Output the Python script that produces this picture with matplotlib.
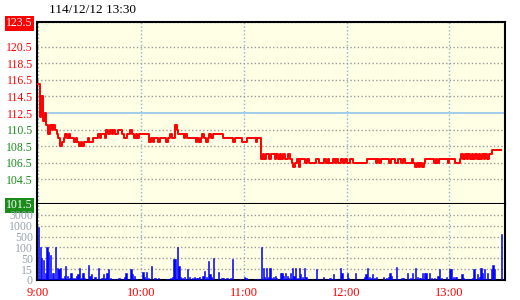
import numpy as np
import matplotlib.pyplot as plt

title = "114/12/12 13:30"

# one value per minute from 9:00 to 13:30
price = [
    116.0, 112.0, 114.5, 111.5, 112.5, 111.0, 110.0, 111.0, 110.5, 111.0,
    110.5, 110.0, 109.5, 108.5, 109.0, 109.5, 110.0, 109.5, 110.0, 109.5,
    109.5, 109.0, 109.5, 109.0, 108.5, 109.0, 108.5, 109.0, 109.0, 109.5,
    109.0, 109.0, 109.5, 109.5, 109.5, 110.0, 109.5, 110.0, 110.0, 109.5,
    110.5, 110.0, 110.5, 110.0, 110.5, 110.0, 110.0, 110.5, 110.5, 110.0,
    109.5, 109.5, 110.0, 110.0, 110.5, 110.0, 109.5, 110.0, 109.5, 110.0,
    110.0, 110.0, 110.0, 110.0, 110.0, 109.0, 109.5, 109.0, 109.5, 109.5,
    109.0, 109.5, 109.5, 109.5, 109.5, 109.0, 109.5, 110.0, 109.5, 109.5,
    111.0, 110.5, 110.0, 110.0, 110.0, 109.5, 110.0, 109.5, 109.5, 109.5,
    109.5, 109.5, 109.0, 109.5, 109.0, 109.5, 110.0, 109.5, 109.0, 109.5,
    110.0, 109.5, 110.0, 110.0, 110.0, 110.0, 110.0, 110.0, 109.5, 109.5,
    109.5, 109.5, 109.5, 109.5, 109.0, 109.5, 109.5, 109.5, 109.5, 109.0,
    109.0, 109.0, 109.5, 109.5, 109.5, 109.5, 109.5, 109.0, 109.5, 109.5,
    107.0, 107.5, 107.0, 107.5, 107.5, 107.0, 107.5, 107.5, 107.0, 107.5,
    107.0, 107.5, 107.0, 107.5, 107.0, 107.0, 107.5, 107.0, 106.5, 106.0,
    106.5, 107.0, 106.0, 107.0, 107.0, 107.0, 106.5, 107.0, 106.5, 106.5,
    106.5, 106.5, 107.0, 107.0, 106.5, 106.5, 106.5, 107.0, 106.5, 107.0,
    106.5, 106.5, 107.0, 106.5, 107.0, 106.5, 106.5, 107.0, 106.5, 107.0,
    106.5, 106.5, 107.0, 107.0, 106.5, 106.5, 106.5, 106.5, 106.5, 106.5,
    106.5, 106.5, 107.0, 107.0, 107.0, 107.0, 107.0, 106.5, 107.0, 106.5,
    107.0, 107.0, 107.0, 107.0, 107.0, 106.5, 107.0, 107.0, 106.5, 106.5,
    107.0, 107.0, 106.5, 107.0, 106.5, 106.5, 106.5, 106.5, 107.0, 106.5,
    106.0, 106.5, 106.0, 106.5, 106.0, 106.5, 107.0, 107.0, 107.0, 107.0,
    107.0, 106.5, 107.0, 106.5, 107.0, 107.0, 107.0, 107.0, 107.0, 106.5,
    107.0, 107.0, 107.0, 106.5, 106.5, 106.5, 107.0, 107.5, 107.0, 107.5,
    107.0, 107.5, 107.0, 107.5, 107.0, 107.5, 107.0, 107.5, 107.0, 107.5,
    107.0, 107.5, 107.0, 107.5, 107.5, 108.0, 108.0, 108.0, 108.0, 108.0,
    108.0,
]

volume = [
    950, 100, 50, 45, 10, 100, 80, 65, 10, 10,
    105, 18, 15, 20, 3, 6, 25, 6, 3, 10,
    3, 3, 6, 8, 18, 3, 10, 3, 0, 27,
    6, 8, 0, 4, 0, 18, 0, 3, 8, 3,
    10, 15, 3, 0, 1, 0, 2, 3, 0, 2,
    4, 10, 0, 0, 16, 8, 6, 1, 0, 0,
    0, 11, 4, 11, 3, 0, 25, 0, 3, 0,
    3, 0, 0, 0, 0, 1, 0, 3, 4, 49,
    49, 100, 25, 4, 3, 4, 1, 17, 4, 0,
    3, 4, 3, 3, 4, 0, 6, 12, 4, 42,
    8, 4, 50, 0, 0, 11, 0, 3, 3, 0,
    3, 0, 3, 47, 0, 0, 0, 1, 0, 0,
    4, 3, 1, 0, 0, 0, 1, 0, 1, 0,
    115, 18, 4, 18, 4, 18, 3, 4, 6, 3,
    0, 10, 10, 6, 10, 6, 3, 10, 18, 6,
    18, 3, 18, 8, 4, 18, 4, 1, 0, 0,
    1, 0, 16, 0, 1, 0, 4, 0, 0, 1,
    3, 1, 8, 1, 0, 0, 18, 10, 0, 1,
    10, 3, 0, 0, 0, 10, 0, 0, 1, 0,
    4, 8, 18, 4, 3, 8, 3, 4, 0, 0,
    0, 4, 0, 3, 4, 10, 6, 1, 0, 21,
    1, 0, 3, 3, 0, 10, 1, 3, 10, 0,
    18, 4, 3, 3, 10, 10, 10, 0, 10, 3,
    0, 3, 0, 6, 16, 3, 0, 0, 4, 0,
    15, 17, 4, 4, 4, 0, 0, 8, 3, 1,
    1, 0, 1, 3, 15, 1, 8, 4, 18, 10,
    15, 1, 10, 0, 15, 27, 15, 0, 0, 0,
    600,
]

price_ticks = [101.5, 104.5, 106.5, 108.5, 110.5, 112.5, 114.5, 116.5, 118.5, 120.5, 123.5]
ref_price = 112.5
vol_ticks = [0, 15, 50, 100, 500, 1000, 3000]
vol_labels = ["0", "15", "50", "100", "500", "1000", "3000"]
time_ticks = [0, 60, 120, 180, 240]
time_labels = ["9:00", "10:00", "11:00", "12:00", "13:00"]

RED = "#ff0000"
GREEN = "#1a8c1a"
BG = "#ffffe6"

plt.rcParams["font.family"] = ["Liberation Serif", "DejaVu Serif"]

fig = plt.figure(figsize=(5.2, 3.0), dpi=100)
ax = fig.add_axes([37 / 520, 96 / 300, 468 / 520, 182 / 300])
axv = fig.add_axes([37 / 520, 20 / 300, 468 / 520, 76 / 300], sharex=ax)

minutes = np.arange(len(price))
ax.step(minutes, price, where="post", color=RED, lw=1.4, zorder=3)

# volume axis: each labelled level gets the same height
lv = np.array(vol_ticks + [5000], dtype=float)
pos = np.arange(len(lv), dtype=float)
axv.set_yscale("function", functions=(lambda v: np.interp(v, lv, pos),
                                      lambda p: np.interp(p, pos, lv)))
axv.bar(np.arange(len(volume)), volume, width=0.7, align="edge",
        color="#0000ff", edgecolor="#0000ff", linewidth=0.4, zorder=3)

for a in (ax, axv):
    a.set_facecolor(BG)
    for s in a.spines.values():
        s.set_linewidth(1.5)
        s.set_color("black")
    a.tick_params(length=0, pad=3, labelsize=8.5)
    a.set_xticks(time_ticks)
    a.grid(axis="x", color="#8fb4d0", ls=":", lw=1)
    a.grid(axis="y", color="#999999", ls=":", lw=1)
    a.set_axisbelow(True)

ax.set_xlim(-0.5, 272.4)
ax.set_ylim(101.5, 123.5)
ax.set_yticks(price_ticks, labels=[f"{t:.1f}" for t in price_ticks])
ax.tick_params(labelbottom=False)
for t, lab, gl in zip(price_ticks, ax.get_yticklabels(), ax.yaxis.get_gridlines()):
    lab.set_color(RED if t >= ref_price else GREEN)
    if t == ref_price:
        gl.set_color("#99c8ec")
        gl.set_linestyle("-")
        gl.set_linewidth(1.3)
lab_top = ax.get_yticklabels()[-1]
lab_top.set_color("white")
lab_top.set_bbox(dict(facecolor=RED, edgecolor="none", pad=1.2))
lab_bot = ax.get_yticklabels()[0]
lab_bot.set_color("white")
lab_bot.set_bbox(dict(facecolor=GREEN, edgecolor="none", pad=1.2))

axv.spines["top"].set_visible(False)
axv.set_ylim(0, 5000)
axv.set_yticks(vol_ticks, labels=vol_labels)
for lab in axv.get_yticklabels():
    lab.set_color("#9aa3ad")
axv.set_xticks(time_ticks, labels=time_labels)
axv.tick_params(axis="x", pad=5, labelsize=9)
for lab in axv.get_xticklabels():
    lab.set_color(RED)

fig.text(49 / 520, 1 - 10 / 300, title, fontsize=9.5, va="center", ha="left")

fig.savefig("out.png", dpi=100)
